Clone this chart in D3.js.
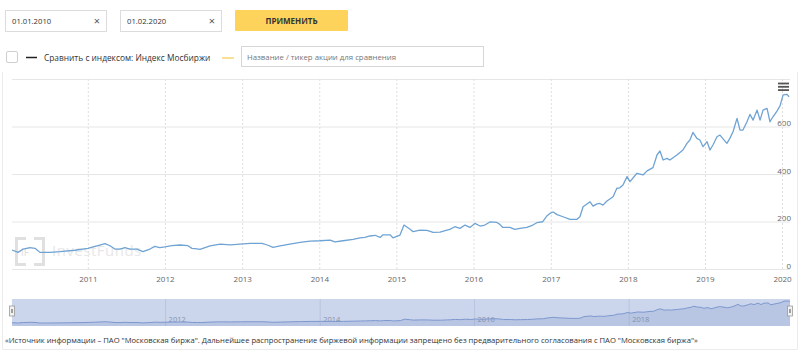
<!DOCTYPE html>
<html>
<head>
<meta charset="utf-8">
<script src="https://cdn.jsdelivr.net/npm/d3@7"></script>
<style>
  body { margin: 0; background: #fff; }
  svg text { font-family: "Open Sans", sans-serif; }
</style>
</head>
<body>
<svg id="chart" width="800" height="353"></svg>
<script>
// price history
const dates = [
  "2010-01-07","2010-02-05","2010-03-01","2010-04-02","2010-04-26","2010-05-19","2010-07-06","2010-08-22","2010-11-01",
  "2011-01-02","2011-02-04","2011-02-27","2011-03-23","2011-04-16","2011-05-09","2011-06-02","2011-06-26","2011-07-19",
  "2011-08-21","2011-09-19","2011-10-22","2011-11-14","2011-12-08",
  "2012-01-01","2012-02-03","2012-03-12","2012-04-19","2012-05-08","2012-06-01","2012-06-15","2012-08-02","2012-09-19",
  "2012-11-05","2012-12-22",
  "2013-02-08","2013-04-05","2013-05-03","2013-05-27","2013-06-29","2013-08-15","2013-10-02","2013-11-18",
  "2014-01-05","2014-02-21","2014-03-16","2014-04-23","2014-06-10","2014-07-13","2014-08-05","2014-08-29","2014-09-22",
  "2014-10-16","2014-10-30","2014-12-02","2014-12-16",
  "2015-01-18","2015-02-06","2015-03-07","2015-03-21","2015-04-23","2015-05-26","2015-06-24","2015-07-27","2015-08-28",
  "2015-09-11","2015-10-05","2015-10-29","2015-11-22","2015-12-15",
  "2016-01-08","2016-02-01","2016-02-24","2016-03-19","2016-04-21","2016-05-05","2016-05-19","2016-06-21","2016-07-15",
  "2016-08-08","2016-09-10","2016-10-08","2016-10-27","2016-11-24","2016-12-13","2016-12-28",
  "2017-01-12","2017-01-31","2017-02-28","2017-04-02","2017-05-05","2017-05-19","2017-06-03","2017-07-06","2017-07-20",
  "2017-08-08","2017-08-22","2017-09-05","2017-09-24","2017-10-23","2017-11-10","2017-11-24","2017-12-09","2017-12-28",
  "2018-01-11","2018-02-13","2018-03-14","2018-04-02","2018-04-30","2018-05-19","2018-06-02","2018-06-17","2018-07-05",
  "2018-07-19","2018-08-21","2018-09-19","2018-10-08","2018-10-22","2018-11-05","2018-11-24","2018-12-08","2018-12-23",
  "2019-01-11","2019-01-25","2019-02-08","2019-02-27","2019-03-13","2019-04-15","2019-04-29","2019-05-14","2019-06-02",
  "2019-06-16","2019-06-30","2019-07-19","2019-08-02","2019-08-17","2019-09-05","2019-09-19","2019-10-03","2019-10-22",
  "2019-11-05","2019-11-19","2019-12-08","2019-12-23",
  "2020-01-06","2020-01-25","2020-02-03"
];
const values = [
  80, 70, 84, 90, 87, 70, 70, 73, 79,
  87, 95, 101, 107, 98, 84, 84, 90, 84,
  84, 73, 84, 95, 90,
  93, 98, 101, 98, 87, 85, 83, 97, 105,
  102, 105,
  108, 108, 100, 91, 97, 105, 112, 117,
  119, 122, 114, 119, 125, 131, 133, 139, 142,
  133, 144, 144, 131,
  143, 185, 167, 157, 164, 163, 154, 155, 164,
  167, 178, 171, 185, 175,
  192, 181, 185, 198, 196, 188, 175, 175, 167,
  171, 175, 185, 195, 199, 223, 234,
  240, 229, 220, 209, 209, 220, 262, 283, 265,
  274, 276, 269, 286, 304, 340, 342, 354, 389,
  368, 403, 396, 413, 427, 480, 497, 459, 466,
  459, 480, 501, 529, 543, 575, 550, 543, 515,
  536, 501, 522, 557, 564, 529, 550, 578, 634,
  585, 585, 620, 651, 627, 669, 627, 669, 676,
  620, 641, 665, 688,
  733, 735, 725
];

const yTicks = [0, 200, 400, 600, 800];
const xTickYears = [2011, 2012, 2013, 2014, 2015, 2016, 2017, 2018, 2019, 2020];
const navTickYears = [2012, 2014, 2016, 2018];

const dateFrom = "01.01.2010";
const dateTo = "01.02.2020";
const applyLabel = "ПРИМЕНИТЬ";
const compareLabel = "Сравнить с индексом: Индекс Мосбиржи";
const tickerPlaceholder = "Название / тикер акции для сравнения";
const footnote = "«Источник информации – ПАО \"Московская биржа\". Дальнейшее распространение биржевой информации запрещено без предварительного согласования с ПАО \"Московская биржа\"»";

const PLOT = { left: 12, right: 789, top: 79, bottom: 269 };
const NAV = { top: 299, bottom: 326, left: 12, right: 790 };

const svg = d3.select("#chart");
const parse = d3.timeParse("%Y-%m-%d");
const data = dates.map((d, i) => ({ date: parse(d), value: values[i] }));

// --- top controls ---
const ctrl = svg.append("g");

function dateBox(x0, label) {
  const g = ctrl.append("g").attr("transform", `translate(${x0},10)`);
  g.append("rect").attr("x", 0.5).attr("y", 0.5).attr("width", 101).attr("height", 21)
    .attr("fill", "#fff").attr("stroke", "#dcdcdc");
  g.append("text").attr("x", 7).attr("y", 14).attr("font-size", "7.7px").attr("fill", "#333").text(label);
  g.append("text").attr("x", 92).attr("y", 15).attr("font-size", "11px").attr("fill", "#555")
    .attr("text-anchor", "middle").text("×");
}
dateBox(5, dateFrom);
dateBox(120, dateTo);

ctrl.append("rect").attr("x", 235).attr("y", 10).attr("width", 113).attr("height", 21)
  .attr("rx", 1).attr("fill", "#fdd35b");
ctrl.append("text").attr("x", 291.5).attr("y", 23.5).attr("text-anchor", "middle")
  .attr("font-size", "8px").attr("font-weight", "bold").attr("fill", "#333").text(applyLabel);

ctrl.append("rect").attr("x", 6.5).attr("y", 51.5).attr("width", 11).attr("height", 11)
  .attr("rx", 1.5).attr("fill", "#fff").attr("stroke", "#cfcfcf");
ctrl.append("line").attr("x1", 26).attr("x2", 37).attr("y1", 57.5).attr("y2", 57.5)
  .attr("stroke", "#222").attr("stroke-width", 1.5);
ctrl.append("text").attr("x", 44).attr("y", 60.5).attr("font-size", "8.35px").attr("fill", "#333").text(compareLabel);
ctrl.append("line").attr("x1", 222).attr("x2", 234).attr("y1", 58).attr("y2", 58)
  .attr("stroke", "#f3d775").attr("stroke-width", 1.5);
ctrl.append("rect").attr("x", 241.5).attr("y", 46.5).attr("width", 242).attr("height", 20)
  .attr("fill", "#fff").attr("stroke", "#d6d6d6");
ctrl.append("text").attr("x", 247).attr("y", 59.5).attr("font-size", "7.8px").attr("fill", "#777").text(tickerPlaceholder);

// container border
svg.append("path").attr("d", "M2.5,72 V349.5 H797.5 V72")
  .attr("fill", "none").attr("stroke", "#ececec");

// --- scales ---
const x = d3.scaleTime()
  .domain(d3.extent(data, d => d.date))
  .range([PLOT.left, PLOT.right]);
const y = d3.scaleLinear().domain([0, 800]).range([PLOT.bottom, PLOT.top]);

// horizontal grid + y labels (inside, right)
const yAxis = svg.append("g")
  .attr("transform", `translate(${PLOT.left},0)`)
  .call(d3.axisRight(y).tickValues(yTicks).tickSize(NAV.right - PLOT.left)
    .tickFormat(d => d === 800 ? "" : d));
yAxis.select(".domain").remove();
yAxis.selectAll("line").attr("stroke", "#e6e6e6");
yAxis.selectAll("text")
  .attr("x", 779).attr("dy", "-1px").attr("text-anchor", "end")
  .attr("font-size", "8px").attr("fill", "#666");

// vertical grid + x labels
const xAxis = svg.append("g")
  .attr("transform", `translate(0,${PLOT.bottom})`)
  .call(d3.axisBottom(x)
    .tickValues(xTickYears.map(yr => new Date(yr, 0, 1)))
    .tickFormat(d3.timeFormat("%Y"))
    .tickSize(-(PLOT.bottom - PLOT.top))
    .tickPadding(7));
xAxis.select(".domain").remove();
xAxis.selectAll("line").attr("stroke", "#dedede").attr("stroke-dasharray", "2,2");
xAxis.selectAll("text").attr("font-size", "8px").attr("fill", "#666");

// watermark
const wm = svg.append("g").attr("fill", "none").attr("stroke", "#e0e0e0").attr("stroke-width", 3);
wm.append("path").attr("d", "M26,238.5 H16.5 V264.5 H26");
wm.append("path").attr("d", "M34,238.5 H43.5 V264.5 H34");
svg.append("text").attr("x", 21).attr("y", 256).attr("font-size", "10px").attr("fill", "#e0e0e0").text("IF");
svg.append("text").attr("x", 52).attr("y", 256).attr("font-size", "15px").attr("letter-spacing", "0.5px")
  .attr("fill", "#e8e8e8").text("InvestFunds");

// price line
svg.append("path")
  .datum(data)
  .attr("fill", "none")
  .attr("stroke", "#6fa3d3")
  .attr("stroke-width", 1.3)
  .attr("stroke-linejoin", "round")
  .attr("d", d3.line().x(d => x(d.date)).y(d => y(d.value)));

// export menu icon
const menu = svg.append("g").attr("stroke", "#555").attr("stroke-width", 1.8);
[83.5, 86.8, 90.1].forEach(yy => {
  menu.append("line").attr("x1", 778).attr("x2", 789).attr("y1", yy).attr("y2", yy);
});

// --- navigator ---
const xNav = x.copy().range([NAV.left, NAV.right]);
const yNav = d3.scaleLinear().domain(d3.extent(values)).range([NAV.bottom - 3, NAV.top + 2]);

svg.append("rect").attr("x", NAV.left).attr("y", NAV.top)
  .attr("width", NAV.right - NAV.left).attr("height", NAV.bottom - NAV.top)
  .attr("fill", "#cbd5ec");

const navAxis = svg.append("g")
  .attr("transform", `translate(0,${NAV.bottom})`)
  .call(d3.axisBottom(xNav)
    .tickValues(navTickYears.map(yr => new Date(yr, 0, 1)))
    .tickFormat(d3.timeFormat("%Y"))
    .tickSize(-(NAV.bottom - NAV.top)));
navAxis.select(".domain").remove();
navAxis.selectAll("line").attr("stroke", "#b9c4de");
navAxis.selectAll("text")
  .attr("y", -4).attr("dy", 0).attr("x", 3).attr("text-anchor", "start")
  .attr("font-size", "7.5px").attr("fill", "#8a93a8");

svg.append("path")
  .datum(data)
  .attr("fill", "rgba(102,133,194,0.18)")
  .attr("d", d3.area().x(d => xNav(d.date)).y0(NAV.bottom).y1(d => yNav(d.value)));
svg.append("path")
  .datum(data)
  .attr("fill", "none")
  .attr("stroke", "#7d98cf")
  .attr("stroke-width", 1)
  .attr("d", d3.line().x(d => xNav(d.date)).y(d => yNav(d.value)));

// navigator handles
[NAV.left - 2.5, NAV.right - 2.5].forEach(hx => {
  const h = svg.append("g").attr("transform", `translate(${hx},306)`);
  h.append("rect").attr("x", 0).attr("y", 0).attr("width", 5).attr("height", 10)
    .attr("fill", "#f2f2f2").attr("stroke", "#999").attr("stroke-width", 0.8);
  h.append("line").attr("x1", 2).attr("x2", 2).attr("y1", 3).attr("y2", 7).attr("stroke", "#666").attr("stroke-width", 0.6);
  h.append("line").attr("x1", 3).attr("x2", 3).attr("y1", 3).attr("y2", 7).attr("stroke", "#666").attr("stroke-width", 0.6);
});

// footnote
svg.append("text").attr("x", 5).attr("y", 343).attr("font-size", "7.65px").attr("fill", "#333").text(footnote);
</script>
</body>
</html>
